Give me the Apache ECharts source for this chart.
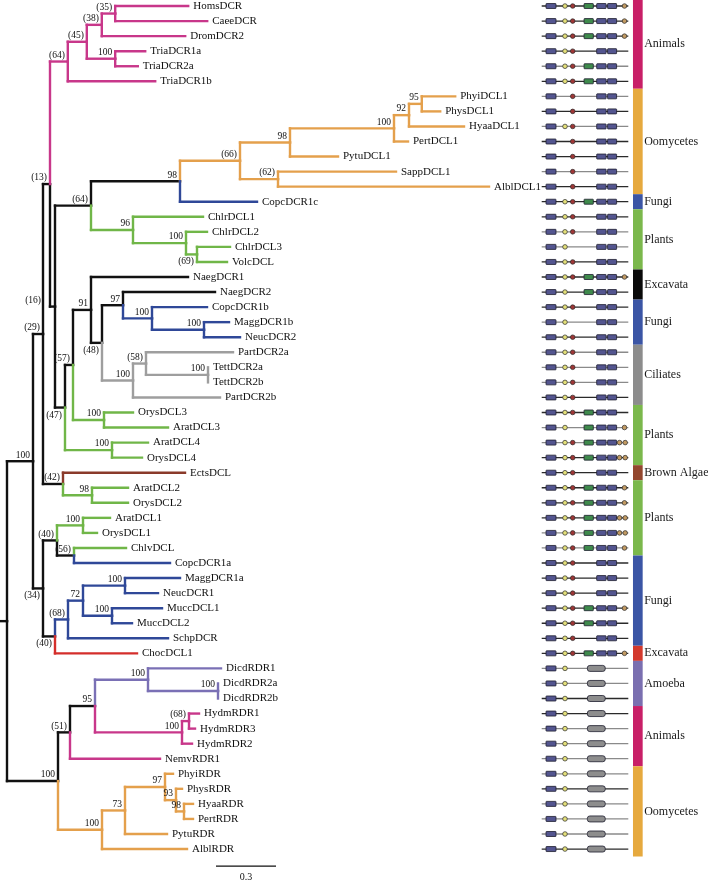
<!DOCTYPE html>
<html><head><meta charset="utf-8">
<script src="https://cdn.jsdelivr.net/npm/echarts@6.0.0/dist/echarts.min.js"></script>
<style>html,body{margin:0;padding:0;background:#fff}#c{width:708px;height:883px}</style>
</head><body><div id="c"></div><script>
// ---------- DATA ----------
const tipNames = ['HomsDCR','CaeeDCR','DromDCR2','TriaDCR1a','TriaDCR2a','TriaDCR1b','PhyiDCL1','PhysDCL1','HyaaDCL1','PertDCL1','PytuDCL1','SappDCL1','AlblDCL1','CopcDCR1c','ChlrDCL1','ChlrDCL2','ChlrDCL3','VolcDCL','NaegDCR1','NaegDCR2','CopcDCR1b','MaggDCR1b','NeucDCR2','PartDCR2a','TettDCR2a','TettDCR2b','PartDCR2b','OrysDCL3','AratDCL3','AratDCL4','OrysDCL4','EctsDCL','AratDCL2','OrysDCL2','AratDCL1','OrysDCL1','ChlvDCL','CopcDCR1a','MaggDCR1a','NeucDCR1','MuccDCL1','MuccDCL2','SchpDCR','ChocDCL1','DicdRDR1','DicdRDR2a','DicdRDR2b','HydmRDR1','HydmRDR3','HydmRDR2','NemvRDR1','PhyiRDR','PhysRDR','HyaaRDR','PertRDR','PytuRDR','AlblRDR'];

// [parent, child, branch length, support, clade]
const treeEdges = [
 ['R','A',0.130,'100','k'],
 ['A','B',0.050,'(29)','k'],
 ['B','C',0.035,'(13)','k'],
 ['C','An64',0.089,'(64)','an'],
 ['An64','An45',0.095,'(45)','an'],
 ['An45','An38',0.075,'(38)','an'],
 ['An38','An35',0.067,'(35)','an'],
 ['An35','HomsDCR',0.365,'','an'],
 ['An35','CaeeDCR',0.46,'','an'],
 ['An38','DromDCR2',0.417,'','an'],
 ['An45','Tria',0.142,'100','an'],
 ['Tria','TriaDCR1a',0.15,'','an'],
 ['Tria','TriaDCR2a',0.113,'','an'],
 ['An64','TriaDCR1b',0.437,'','an'],
 ['C','D',0.025,'(16)','k'],
 ['D','E',0.18,'(64)','k'],
 ['E','F',0.445,'98','k'],
 ['F','G',0.30,'(66)','oo'],
 ['G','H',0.25,'98','oo'],
 ['H','I',0.52,'100','oo'],
 ['I','J',0.075,'92','oo'],
 ['J','K',0.064,'95','oo'],
 ['K','PhyiDCL1',0.167,'','oo'],
 ['K','PhysDCL1',0.092,'','oo'],
 ['J','HyaaDCL1',0.275,'','oo'],
 ['I','PertDCL1',0.07,'','oo'],
 ['H','PytuDCL1',0.24,'','oo'],
 ['G','L',0.19,'(62)','oo'],
 ['L','SappDCL1',0.59,'','oo'],
 ['L','AlblDCL1',1.055,'','oo'],
 ['F','CopcDCR1c',0.385,'','fu'],
 ['E','M',0.21,'96','pl'],
 ['M','ChlrDCL1',0.35,'','pl'],
 ['M','N',0.265,'100','pl'],
 ['N','ChlrDCL2',0.105,'','pl'],
 ['N','O',0.055,'(69)','pl'],
 ['O','ChlrDCL3',0.165,'','pl'],
 ['O','VolcDCL',0.15,'','pl'],
 ['D','P',0.05,'(47)','k'],
 ['P','Q',0.04,'(57)','k'],
 ['Q','S',0.09,'91','k'],
 ['S','NaegDCR1',0.485,'','k'],
 ['S','T',0.055,'(48)','k'],
 ['T','U',0.105,'97','k'],
 ['U','NaegDCR2',0.46,'','k'],
 ['U','V',0.145,'100','fu'],
 ['V','CopcDCR1b',0.275,'','fu'],
 ['V','W',0.26,'100','fu'],
 ['W','MaggDCR1b',0.125,'','fu'],
 ['W','NeucDCR2',0.18,'','fu'],
 ['T','Cil',0.155,'100','ci'],
 ['Cil','Cil58',0.065,'(58)','ci'],
 ['Cil58','PartDCR2a',0.435,'','ci'],
 ['Cil58','Tett',0.31,'100','ci'],
 ['Tett','TettDCR2a',0,'','ci'],
 ['Tett','TettDCR2b',0,'','ci'],
 ['Cil','PartDCR2b',0.435,'','ci'],
 ['Q','DCL3',0.155,'100','pl'],
 ['DCL3','OrysDCL3',0.145,'','pl'],
 ['DCL3','AratDCL3',0.32,'','pl'],
 ['P','DCL4',0.235,'100','pl'],
 ['DCL4','AratDCL4',0.18,'','pl'],
 ['DCL4','OrysDCL4',0.15,'','pl'],
 ['B','X',0.10,'(42)','k'],
 ['X','EctsDCL',0.61,'','ba'],
 ['X','DCL2',0.145,'98','pl'],
 ['DCL2','AratDCL2',0.18,'','pl'],
 ['DCL2','OrysDCL2',0.18,'','pl'],
 ['A','Y',0.05,'(34)','k'],
 ['Y','Z40a',0.07,'(40)','k'],
 ['Z40a','DCL1',0.13,'100','pl'],
 ['DCL1','AratDCL1',0.135,'','pl'],
 ['DCL1','OrysDCL1',0.07,'','pl'],
 ['Z40a','Z56',0.085,'(56)','k'],
 ['Z56','ChlvDCL',0.26,'','pl'],
 ['Z56','CopcDCR1a',0.48,'','fu'],
 ['Y','Z40b',0.06,'(40)','k'],
 ['Z40b','Z68',0.065,'(68)','fu'],
 ['Z68','Z72',0.075,'72','fu'],
 ['Z72','MN',0.21,'100','fu'],
 ['MN','MaggDCR1a',0.275,'','fu'],
 ['MN','NeucDCR1',0.165,'','fu'],
 ['Z72','Mu',0.145,'100','fu'],
 ['Mu','MuccDCL1',0.25,'','fu'],
 ['Mu','MuccDCL2',0.10,'','fu'],
 ['Z68','SchpDCR',0.50,'','fu'],
 ['Z40b','ChocDCL1',0.41,'','ex'],
 ['R','RD',0.255,'100','k'],
 ['RD','R51',0.06,'(51)','k'],
 ['R51','R95',0.125,'95','k'],
 ['R95','Am',0.265,'100','am'],
 ['Am','DicdRDR1',0.365,'','am'],
 ['Am','Dd',0.35,'100','am'],
 ['Dd','DicdRDR2a',0,'','am'],
 ['Dd','DicdRDR2b',0,'','am'],
 ['R95','Hy',0.435,'100','an'],
 ['Hy','Hy68',0.035,'(68)','an'],
 ['Hy68','HydmRDR1',0.05,'','an'],
 ['Hy68','HydmRDR3',0.03,'','an'],
 ['Hy','HydmRDR2',0.05,'','an'],
 ['R51','NemvRDR1',0.45,'','an'],
 ['RD','Oo',0.22,'100','oo'],
 ['Oo','Oo73',0.115,'73','oo'],
 ['Oo73','Oo97',0.20,'97','oo'],
 ['Oo97','PhyiRDR',0.04,'','oo'],
 ['Oo97','Oo93',0.055,'93','oo'],
 ['Oo93','PhysRDR',0.03,'','oo'],
 ['Oo93','Oo98',0.04,'98','oo'],
 ['Oo98','HyaaRDR',0.045,'','oo'],
 ['Oo98','PertRDR',0.045,'','oo'],
 ['Oo73','PytuRDR',0.21,'','oo'],
 ['Oo','AlblRDR',0.425,'','oo']
];
const rootStub = 0.035;

// domain architecture per tip: H helicase, Y/R small domains, G green domain, B two RNase III, O one dsRBD, D two dsRBD, P RdRP
const tipDomains = ['HYRGBO','HYRGBO','HYRGBO','HYRB','HYRGB','HYRGB','HRB','HRB','HYRB','HRB','HRB','HRB','HRB','HYRGB','HYRB','HYRB','HYB','HYRB','HYRGBO','HYGB','HYRB','HYB','HYRB','HYRB','HYRB','HYRB','HYRB','HYRGB','HYGBO','HYRGBD','HYRGBD','HYRB','HYRGBO','HYRGBO','HYRGBD','HYRGBD','HYRGBO','HYRB','HYRB','HYRB','HYRGBO','HYRGB','HYRB','HYRGBO','HYP','HYP','HYP','HYP','HYP','HYP','HYP','HYP','HYP','HYP','HYP','HYP','HYP'];
const tipLineShade = [0,0,0,0,1,0,1,0,1,0,0,1,0,0,0,1,1,0,0,0,0,1,0,1,1,1,0,0,1,1,0,0,0,0,0,1,1,0,0,0,0,0,0,0,1,1,0,0,1,1,1,1,0,1,1,1,0];
// schematic domain positions on a 0-100 scale
const domainSlots = {H:[[5.0,16.5]], Y:[26.9], R:[35.8], G:[[48.9,59.6]], B:[[63.5,74.4],[76.1,86.5]], O:[95.6], D:[89.9,96.4], P:[[52.7,73.4]]};

const groupNames = ['Animals','Oomycetes','Fungi','Plants','Excavata','Fungi','Ciliates','Plants','Brown Algae','Plants','Fungi','Excavata','Amoeba','Animals','Oomycetes'];
const groupStartRow = [1,7,14,15,19,21,24,28,32,33,38,44,45,48,52];
const groupEndRow   = [6,13,14,18,20,23,27,31,32,37,43,44,47,51,57];
const groupKey      = ['an','oo','fu','pl','exk','fu','ci','pl','ba','pl','fu','ex','am','an','oo'];

const scaleBarLength = 0.3;
const scaleBarLabel = '0.3';

// ---------- STYLE ----------
const branchColors = {k:'#111111', an:'#c8378a', oo:'#e4a04c', fu:'#2f4898', pl:'#70b648', ci:'#9e9e9e', ba:'#8a3a2a', ex:'#d42e2b', am:'#7a70b5'};
const barColors = {an:'#c81f67', oo:'#e6a93e', fu:'#3b55a5', pl:'#7bb84c', exk:'#0a0a0a', ci:'#8c8c8c', ba:'#93472e', ex:'#d3392d', am:'#7a6fb0'};
const SERIF = '"Liberation Serif","Times New Roman",serif';
const supportPlacement = {D:{dx:-11}, P:{below:true}, T:{below:true}, O:{below:true}, Y:{below:true}, Z40b:{below:true}};

// ---------- LAYOUT ----------
const children = {}, edgeInfo = {};
treeEdges.forEach(([p,c,len,sup,cl])=>{(children[p]=children[p]||[]).push(c); edgeInfo[c]={p,len,sup,cl};});
const X = {}, Y = {};
(function setX(n,x){X[n]=x;(children[n]||[]).forEach(c=>setX(c,x+edgeInfo[c].len));})('R',0);
tipNames.forEach((t,i)=>Y[t]=i+1);
(function setY(n){ if(!children[n]) return Y[n]; const ch=children[n]; ch.forEach(setY); Y[n]=(Y[ch[0]]+Y[ch[ch.length-1]])/2; return Y[n]; })('R');

const segs = [];
segs.push({x1:-rootStub,y1:Y.R,x2:0,y2:Y.R,c:'k'});
treeEdges.forEach(([p,c,len,sup,cl])=>{ if(len>0) segs.push({x1:X[p],y1:Y[c],x2:X[c],y2:Y[c],c:cl}); });
Object.keys(children).forEach(p=>{ const ch=children[p]; const a=ch[0], b=ch[ch.length-1];
  segs.push({x1:X[p],y1:Y[a],x2:X[p],y2:Y[p],c:edgeInfo[a].cl});
  segs.push({x1:X[p],y1:Y[p],x2:X[p],y2:Y[b],c:edgeInfo[b].cl}); });
segs.sort((a,b)=>(a.c==='k'?0:1)-(b.c==='k'?0:1));

const supports = treeEdges.filter(e=>e[3]!=='').map(e=>({n:e[1],s:e[3]}));

function txt(x,y,text,font,align,valign,fill){
  return {type:'text',x:x,y:y,style:{text:text,font:font,fill:fill||'#111',align:align,verticalAlign:valign,textAlign:align,textVerticalAlign:valign}};
}

const chart = echarts.init(document.getElementById('c'), null, {renderer:'canvas'});
const ROWPX = 15.054;
chart.setOption({
  animation:false,
  backgroundColor:'#ffffff',
  grid:[{left:7, top:0, width:600, height:56.8*ROWPX},{left:541.7, top:0, width:86.6, height:56.8*ROWPX}],
  xAxis:[{type:'value',gridIndex:0,min:0,max:3,show:false},{type:'value',gridIndex:1,min:0,max:100,show:false}],
  yAxis:[{type:'value',gridIndex:0,min:0.6,max:57.4,inverse:true,show:false},{type:'value',gridIndex:1,min:0.6,max:57.4,inverse:true,show:false}],
  series:[
    { type:'custom', xAxisIndex:0, yAxisIndex:0, silent:true, clip:false,
      data: segs.map(s=>[s.x1,s.y1,s.x2,s.y2]), encode:{x:[0,2],y:[1,3]},
      renderItem:(params,api)=>{ const s=segs[params.dataIndex];
        const p1=api.coord([api.value(0),api.value(1)]), p2=api.coord([api.value(2),api.value(3)]);
        return {type:'line',shape:{x1:p1[0],y1:p1[1],x2:p2[0],y2:p2[1]},style:{stroke:branchColors[s.c],lineWidth:2.4,lineCap:'square'}}; } },
    { type:'custom', xAxisIndex:0, yAxisIndex:0, silent:true, clip:false,
      data: tipNames.map(t=>[X[t],Y[t]]), encode:{x:0,y:1},
      renderItem:(params,api)=>{ const p=api.coord([api.value(0),api.value(1)]);
        return txt(p[0]+5,p[1],tipNames[params.dataIndex],'11px '+SERIF,'left','middle','#111'); } },
    { type:'custom', xAxisIndex:0, yAxisIndex:0, silent:true, clip:false,
      data: supports.map(s=>[X[s.n],Y[s.n]]), encode:{x:0,y:1},
      renderItem:(params,api)=>{ const s=supports[params.dataIndex]; const pl=supportPlacement[s.n]||{};
        const p=api.coord([api.value(0),api.value(1)]);
        const x=p[0]-3+(pl.dx||0);
        if(pl.below) return txt(x,p[1]+2.5,s.s,'9.5px '+SERIF,'right','top','#111');
        return txt(x,p[1]-1.2,s.s,'9.5px '+SERIF,'right','bottom','#111'); } },
    { type:'custom', xAxisIndex:1, yAxisIndex:1, silent:true, clip:false,
      data: tipNames.map((t,i)=>[50,i+1]), encode:{x:0,y:1},
      renderItem:(params,api)=>{ const row=api.value(1); const code=tipDomains[params.dataIndex];
        const y=api.coord([0,row])[1]; const xo=v=>api.coord([v,row])[0];
        const kids=[{type:'line',shape:{x1:xo(0),y1:y,x2:xo(100),y2:y},style:{stroke:tipLineShade[params.dataIndex]?'#8a8a8a':'#2a2a2a',lineWidth:1.3}}];
        const rect=(a,b,fill,h,r)=>kids.push({type:'rect',shape:{x:xo(a),y:y-h/2,width:xo(b)-xo(a),height:h,r:r||0},style:{fill:fill,stroke:'#1e1e2e',lineWidth:0.8}});
        const circ=(a,fill)=>kids.push({type:'circle',shape:{cx:xo(a),cy:y,r:2.3},style:{fill:fill,stroke:'#2a2a2a',lineWidth:0.7}});
        for(const ch of code){
          if(ch==='H'||ch==='B') domainSlots[ch].forEach(s=>rect(s[0],s[1],'#53558f',5,0.5));
          else if(ch==='G') domainSlots.G.forEach(s=>rect(s[0],s[1],'#3f8a4c',5,0.5));
          else if(ch==='P') domainSlots.P.forEach(s=>rect(s[0],s[1],'#8d8d8d',6,2.5));
          else if(ch==='Y') domainSlots.Y.forEach(v=>circ(v,'#e4e07a'));
          else if(ch==='R') domainSlots.R.forEach(v=>circ(v,'#9e3636'));
          else if(ch==='O') domainSlots.O.forEach(v=>circ(v,'#c29a62'));
          else if(ch==='D') domainSlots.D.forEach(v=>circ(v,'#c29a62'));
        }
        return {type:'group',children:kids}; } },
    { type:'custom', xAxisIndex:1, yAxisIndex:1, silent:true, clip:false,
      data: groupNames.map((g,i)=>[groupStartRow[i]-0.5,groupEndRow[i]+0.5]), encode:{y:[0,1]},
      renderItem:(params,api)=>{ const i=params.dataIndex;
        const p1=api.coord([105.4,api.value(0)]), p2=api.coord([116.6,api.value(1)]);
        const pm=api.coord([118.3,(api.value(0)+api.value(1))/2]);
        return {type:'group',children:[
          {type:'rect',shape:{x:p1[0],y:p1[1],width:p2[0]-p1[0],height:p2[1]-p1[1]},style:{fill:barColors[groupKey[i]]}},
          txt(pm[0],pm[1],groupNames[i],'12px '+SERIF,'left','middle','#1a1a1a')]}; } },
    { type:'custom', xAxisIndex:0, yAxisIndex:0, silent:true, clip:false,
      data:[[1.045,58.13,1.045+scaleBarLength]], encode:{x:[0,2],y:1},
      renderItem:(params,api)=>{ const p1=api.coord([api.value(0),api.value(1)]), p2=api.coord([api.value(2),api.value(1)]);
        return {type:'group',children:[
          {type:'line',shape:{x1:p1[0],y1:p1[1],x2:p2[0],y2:p2[1]},style:{stroke:'#111',lineWidth:1.2}},
          txt((p1[0]+p2[0])/2,p1[1]+6,scaleBarLabel,'10px '+SERIF,'center','top','#111')]}; } }
  ]
});
</script></body></html>
